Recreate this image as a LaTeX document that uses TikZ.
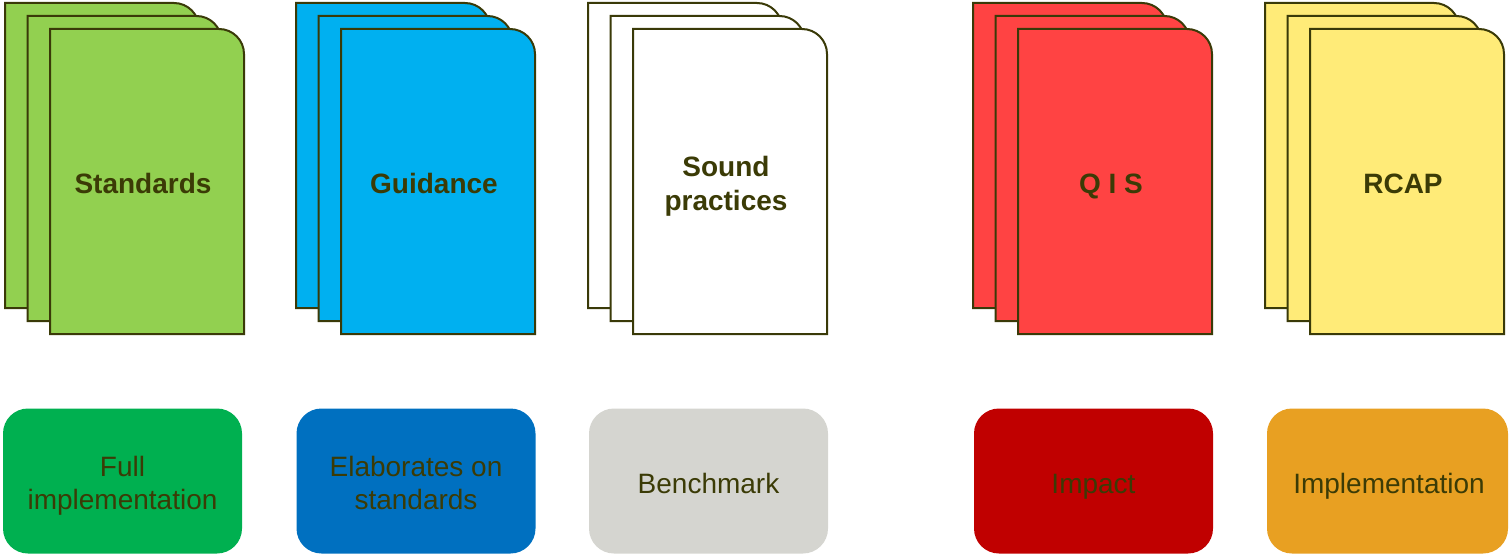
\documentclass[tikz,border=0pt]{standalone}
\usepackage{fontspec}
\setmainfont{Liberation Sans}
\definecolor{txt}{HTML}{3B3B06}
\definecolor{edge}{HTML}{3A3A08}
\definecolor{sgreen}{HTML}{92D050}
\definecolor{sblue}{HTML}{00B0F0}
\definecolor{sred}{HTML}{FF4343}
\definecolor{syellow}{HTML}{FFEB78}
\definecolor{bgreen}{HTML}{00B050}
\definecolor{bblue}{HTML}{0070C0}
\definecolor{bgray}{HTML}{D5D5D0}
\definecolor{bred}{HTML}{C00000}
\definecolor{borange}{HTML}{E8A022}
\tikzset{
  sheet/.style={draw=edge, line width=2pt},
  sheetlabel/.style={text=txt, font=\bfseries\fontsize{28}{34}\selectfont, align=center, inner sep=0pt, anchor=base},
  infobox/.style={rounded corners=25pt, minimum width=239pt, minimum height=145pt, inner sep=0pt},
  boxtext/.style={text=txt, font=\fontsize{28}{33}\selectfont, align=center, inner sep=0pt, anchor=base}
}
\newcommand{\onesheet}[3]{% x, y, fill
  \draw[sheet, fill=#3] (#1,#2+305) -- (#1,#2) [rounded corners=25pt] -- (#1+194,#2) [sharp corners] -- (#1+194,#2+305) -- cycle;
}
\newcommand{\mystack}[5]{% back-left x, fill, name, text, baseline (last line)
  \onesheet{#1}{3}{#2}
  \onesheet{#1+22.5}{16}{#2}
  \onesheet{#1+45}{29}{#2}
  \node[sheetlabel] (#3) at (#1+45+93,#5) {#4};
}
\begin{document}
\begin{tikzpicture}[x=1pt,y=-1pt]
\useasboundingbox (0,0) rectangle (1510,556);
\mystack{5}{sgreen}{standards}{Standards}{194}
\mystack{296}{sblue}{guidance}{Guidance}{194}
\mystack{588}{white}{sound}{Sound\\practices}{211}
\mystack{973}{sred}{qis}{Q I S}{194}
\mystack{1265}{syellow}{rcap}{RCAP}{194}
\node[infobox, fill=bgreen] (full) at (122.5,481) {};
\node[infobox, fill=bblue] (elab) at (416,481) {};
\node[infobox, fill=bgray] (bench) at (708.5,481) {};
\node[infobox, fill=bred] (impact) at (1093.5,481) {};
\node[infobox, fill=borange, minimum width=241pt] (impl) at (1387.5,481) {};
\node[boxtext] (fulltext) at (122.5,509) {Full\\implementation};
\node[boxtext] (elabtext) at (416,509) {Elaborates on\\standards};
\node[boxtext] (benchtext) at (708.5,493) {Benchmark};
\node[boxtext] (impacttext) at (1093.5,493) {Impact};
\node[boxtext] (impltext) at (1389,493) {Implementation};
\end{tikzpicture}
\end{document}
